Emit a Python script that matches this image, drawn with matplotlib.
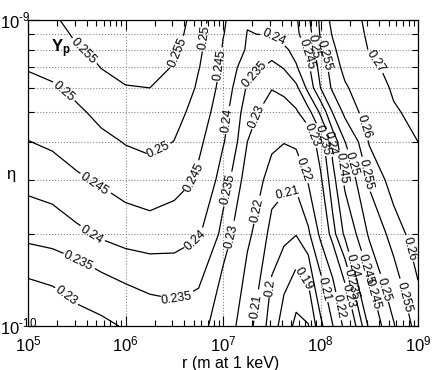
import numpy as np
import matplotlib
matplotlib.use("Agg")
import matplotlib.pyplot as plt
from matplotlib.ticker import LogLocator, NullFormatter, FuncFormatter

plt.rcParams['font.family'] = ['Liberation Sans', 'DejaVu Sans']
plt.rcParams['mathtext.fontset'] = 'custom'
plt.rcParams['mathtext.rm'] = 'Liberation Sans'
plt.rcParams['mathtext.bf'] = 'Liberation Sans:bold'

# grid of the table: log10 r (r in m at 1 keV) and eta
log_r = [5, 5.25, 5.5, 5.75, 6, 6.25, 6.5, 6.75, 7, 7.25, 7.5,
         7.625, 7.75, 7.875, 8, 8.125, 8.25, 8.5, 8.75, 9]
eta = [1e-10, 2e-10, 3e-10, 4e-10, 5e-10, 6e-10, 7e-10, 8e-10, 9e-10, 1e-9]

# Yp values, one row per eta
yp_1 = [0.2250, 0.2260, 0.2280, 0.2290, 0.2305, 0.2320, 0.2329, 0.2323, 0.2255, 0.2135,
        0.1945, 0.1852, 0.1775, 0.1795, 0.1980, 0.2097, 0.2230, 0.2413, 0.2497, 0.2575]
yp_2 = [0.2366, 0.2374, 0.2391, 0.2410, 0.2425, 0.2431, 0.2426, 0.2405, 0.2334, 0.2222,
        0.2064, 0.2032, 0.2005, 0.2085, 0.2225, 0.2333, 0.2412, 0.2509, 0.2574, 0.2636]
yp_3 = [0.2417, 0.2426, 0.2444, 0.2459, 0.2472, 0.2481, 0.2468, 0.2443, 0.2376, 0.2268,
        0.2153, 0.2129, 0.2135, 0.2212, 0.2291, 0.2384, 0.2462, 0.2561, 0.2628, 0.2673]
yp_4 = [0.2449, 0.2459, 0.2472, 0.2489, 0.2503, 0.2512, 0.2499, 0.2458, 0.2405, 0.2300,
        0.2226, 0.2204, 0.2218, 0.2267, 0.2330, 0.2420, 0.2499, 0.2605, 0.2658, 0.2700]
yp_5 = [0.2471, 0.2480, 0.2493, 0.2514, 0.2528, 0.2534, 0.2518, 0.2474, 0.2418, 0.2318,
        0.2269, 0.2271, 0.2294, 0.2335, 0.2411, 0.2503, 0.2564, 0.2635, 0.2691, 0.2728]
yp_6 = [0.2488, 0.2496, 0.2512, 0.2534, 0.2548, 0.2550, 0.2533, 0.2492, 0.2428, 0.2343,
        0.2303, 0.2318, 0.2338, 0.2418, 0.2500, 0.2560, 0.2592, 0.2658, 0.2712, 0.2733]
yp_7 = [0.2503, 0.2510, 0.2529, 0.2551, 0.2563, 0.2565, 0.2546, 0.2502, 0.2438, 0.2365,
        0.2337, 0.2353, 0.2395, 0.2442, 0.2521, 0.2573, 0.2617, 0.2684, 0.2728, 0.2746]
yp_8 = [0.2516, 0.2523, 0.2547, 0.2565, 0.2575, 0.2577, 0.2558, 0.2508, 0.2446, 0.2393,
        0.2372, 0.2391, 0.2417, 0.2464, 0.2541, 0.2588, 0.2637, 0.2705, 0.2742, 0.2758]
yp_9 = [0.2528, 0.2535, 0.2558, 0.2577, 0.2585, 0.2587, 0.2568, 0.2513, 0.2452, 0.2398,
        0.2405, 0.2423, 0.2441, 0.2481, 0.2556, 0.2605, 0.2645, 0.2718, 0.2753, 0.2768]
yp_10 = [0.2537, 0.2545, 0.2565, 0.2585, 0.2592, 0.2594, 0.2576, 0.2518, 0.2455, 0.2405,
         0.2408, 0.2428, 0.2445, 0.2492, 0.2561, 0.2617, 0.2657, 0.2725, 0.2760, 0.2775]

levels = [0.18, 0.19, 0.2, 0.21, 0.22, 0.23, 0.235, 0.24, 0.245, 0.25, 0.255, 0.26, 0.27]

# where the contour labels sit (log10 r, log10 eta)
label_at = [(5.585, -9.098), (6.528, -9.105), (8.046, -9.114), (8.456, -9.507), (8.867, -9.905),
            (5.379, -9.229), (6.374, -9.448), (6.836, -9.059), (7.913, -9.088), (8.333, -9.467),
            (8.692, -9.876),
            (5.667, -9.542), (6.692, -9.513), (6.969, -9.147), (7.841, -9.114), (8.303, -9.480),
            (8.579, -9.892),
            (5.636, -9.709), (6.733, -9.729), (7.021, -9.327), (7.513, -9.059), (8.097, -9.402),
            (8.426, -9.817),
            (5.482, -9.807), (6.559, -9.938), (7.072, -9.556), (7.277, -9.163), (8.026, -9.392),
            (8.364, -9.801),
            (5.379, -9.908), (7.103, -9.709), (7.297, -9.310), (7.964, -9.369), (8.303, -9.866),
            (7.328, -9.621), (7.821, -9.490), (8.231, -9.908),
            (7.349, -9.938), (7.667, -9.578), (8.169, -9.938),
            (7.513, -9.876), (8.015, -9.882),
            (7.769, -9.859),
            (8.436, -9.350), (8.867, -9.752),
            (8.538, -9.141)]

R, E = np.meshgrid(10.0 ** np.array(log_r), np.array(eta))
Z = np.array([yp_1, yp_2, yp_3, yp_4, yp_5, yp_6, yp_7, yp_8, yp_9, yp_10])

fig = plt.figure(figsize=(4.36, 3.70), dpi=100)
ax = fig.add_axes([28 / 436, 44 / 370, 390 / 436, 306 / 370])
ax.set_xscale('log')
ax.set_yscale('log')

cs = ax.contour(R, E, Z, levels=levels, colors='black', linewidths=0.9)
ax.clabel(cs, fmt='%g', fontsize=9, inline=True, inline_spacing=2,
          manual=[(10.0 ** a, 10.0 ** b) for a, b in label_at])

ax.set_xlim(1e5, 1e9)
ax.set_ylim(1e-10, 1e-9)
ax.xaxis.set_major_locator(LogLocator(base=10))
ax.xaxis.set_minor_locator(LogLocator(base=10, subs=np.arange(2, 10)))
ax.yaxis.set_minor_locator(LogLocator(base=10, subs=np.arange(2, 10)))
ax.yaxis.set_minor_formatter(NullFormatter())
ax.xaxis.set_minor_formatter(NullFormatter())
ax.yaxis.set_major_formatter(FuncFormatter(
    lambda v, pos: r'$10^{\text{-}%d}$' % round(-np.log10(v))))

ax.grid(True, which='major', axis='x', linestyle=':', color='#888888', linewidth=0.8)
ax.grid(True, which='minor', axis='y', linestyle=':', color='#888888', linewidth=0.8)

ax.tick_params(which='both', direction='in', top=True, right=True, labelsize=12, width=0.8)
ax.tick_params(which='major', length=7, pad=6)
ax.tick_params(which='minor', length=4)
ax.tick_params(axis='y', which='major', pad=20)
plt.setp(ax.get_yticklabels(), ha='left')
for s in ax.spines.values():
    s.set_linewidth(0.9)

ax.set_xlabel('r (m at 1 keV)', fontsize=11.5, labelpad=1)
ax.xaxis.label.set_x(0.52)
ax.set_ylabel('η', rotation=0, fontsize=12)
ax.yaxis.set_label_coords(-0.045, 0.47)
ax.text(0.06, 0.895, r'$\mathbf{Y_p}$', transform=ax.transAxes, fontsize=12)

fig.savefig('out.png', dpi=100)
